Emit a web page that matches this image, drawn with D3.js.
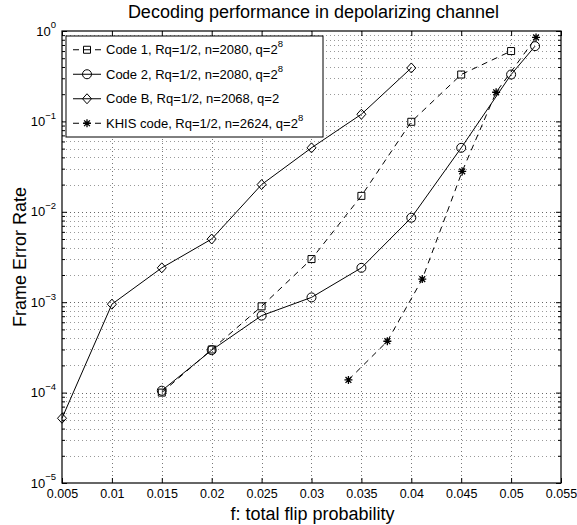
<!DOCTYPE html>
<html>
<head>
<meta charset="utf-8">
<script src="https://cdn.jsdelivr.net/npm/d3@7"></script>
<style>
  body { margin: 0; background: #fff; }
  svg { display: block; font-family: "Liberation Sans", Arial, Helvetica, sans-serif; }
</style>
</head>
<body>
<svg id="chart"></svg>
<script>
// Frame error rate vs total flip probability
const fCode1 = [0.015, 0.02, 0.025, 0.03, 0.035, 0.04, 0.045, 0.05];
const ferCode1 = [1.0e-4, 3.0e-4, 9.0e-4, 3.0e-3, 1.5e-2, 0.099, 0.33, 0.60];

const fCode2 = [0.015, 0.02, 0.025, 0.03, 0.035, 0.04, 0.045, 0.05, 0.0524];
const ferCode2 = [1.05e-4, 2.95e-4, 7.1e-4, 1.13e-3, 2.4e-3, 8.6e-3, 0.051, 0.33, 0.68];

const fCodeB = [0.005, 0.01, 0.015, 0.02, 0.025, 0.03, 0.035, 0.04];
const ferCodeB = [5.2e-5, 9.5e-4, 2.4e-3, 5.0e-3, 2.0e-2, 5.1e-2, 0.12, 0.39];

const fKhis = [0.0337, 0.0376, 0.0411, 0.0451, 0.0485, 0.0525];
const ferKhis = [1.38e-4, 3.7e-4, 1.8e-3, 2.8e-2, 0.21, 0.85];

const seriesNames = [
  'Code 1, Rq=1/2, n=2080, q=2',
  'Code 2, Rq=1/2, n=2080, q=2',
  'Code B, Rq=1/2, n=2068, q=2',
  'KHIS code, Rq=1/2, n=2624, q=2'
];
const seriesExponents = ['8', '8', '', '8'];

const xTicks = [0.005, 0.01, 0.015, 0.02, 0.025, 0.03, 0.035, 0.04, 0.045, 0.05, 0.055];
const xTickLabels = ['0.005', '0.01', '0.015', '0.02', '0.025', '0.03', '0.035', '0.04', '0.045', '0.05', '0.055'];
const yExponents = [0, -1, -2, -3, -4, -5];

const series = [
  {name: seriesNames[0], sup: seriesExponents[0], f: fCode1, fer: ferCode1, marker: 'square', dashed: true},
  {name: seriesNames[1], sup: seriesExponents[1], f: fCode2, fer: ferCode2, marker: 'circle', dashed: false},
  {name: seriesNames[2], sup: seriesExponents[2], f: fCodeB, fer: ferCodeB, marker: 'diamond', dashed: false},
  {name: seriesNames[3], sup: seriesExponents[3], f: fKhis, fer: ferKhis, marker: 'star', dashed: true}
];

const width = 577, height = 525;
const margin = {top: 31, right: 16, bottom: 42, left: 62};
const innerW = width - margin.left - margin.right;
const innerH = height - margin.top - margin.bottom;

const svg = d3.select('#chart').attr('width', width).attr('height', height);
const chart = svg.append('g').attr('transform', `translate(${margin.left},${margin.top})`);

const xScale = d3.scaleLinear().domain([0.005, 0.055]).range([0, innerW]);
const yScale = d3.scaleLog().domain([1e-5, 1]).range([innerH, 0]);

const yMajor = yExponents.map(e => Math.pow(10, e));
const yMinor = [];
for (let e = -5; e < 0; e++) {
  for (let m = 2; m <= 9; m++) yMinor.push(m * Math.pow(10, e));
}

// grid (dotted)
const grid = chart.append('g').attr('class', 'grid')
    .attr('stroke', '#777').attr('stroke-width', 1).attr('stroke-dasharray', '1,3');
grid.selectAll('.vgrid').data(xTicks.slice(1, -1)).enter().append('line')
    .attr('x1', d => Math.round(xScale(d)) + 0.5).attr('x2', d => Math.round(xScale(d)) + 0.5)
    .attr('y1', 0).attr('y2', innerH);
grid.selectAll('.hgrid').data(yMajor.slice(1, -1).concat(yMinor)).enter().append('line')
    .attr('x1', 0).attr('x2', innerW)
    .attr('y1', d => Math.round(yScale(d)) + 0.5).attr('y2', d => Math.round(yScale(d)) + 0.5)
    .attr('stroke', d => yMajor.includes(d) ? '#666' : '#999');

// axes with inward ticks on all four sides
const axisG = (axis, tf) => {
  const g = chart.append('g').attr('transform', tf).call(axis);
  g.select('.domain').remove();
  g.selectAll('line').attr('stroke', '#000');
  return g;
};
const xBottom = axisG(d3.axisBottom(xScale).tickValues(xTicks)
    .tickFormat((d, i) => xTickLabels[i]).tickSize(-5).tickPadding(6), `translate(0,${innerH})`);
xBottom.selectAll('text').attr('font-size', 12.5).attr('fill', '#000')
    .attr('font-family', '"Liberation Sans", Arial, sans-serif');
axisG(d3.axisTop(xScale).tickValues(xTicks).tickFormat('').tickSize(-5), 'translate(0,0)');
axisG(d3.axisLeft(yScale).tickValues(yMajor).tickFormat('').tickSize(-5), 'translate(0,0)');
axisG(d3.axisLeft(yScale).tickValues(yMinor).tickFormat('').tickSize(-3), 'translate(0,0)');
axisG(d3.axisRight(yScale).tickValues(yMajor).tickFormat('').tickSize(-5), `translate(${innerW},0)`);
axisG(d3.axisRight(yScale).tickValues(yMinor).tickFormat('').tickSize(-3), `translate(${innerW},0)`);

// y tick labels as 10^k
const yLabels = chart.append('g').attr('font-size', 13).attr('text-anchor', 'end');
yExponents.forEach(e => {
  const t = yLabels.append('text').attr('x', -6).attr('y', yScale(Math.pow(10, e))).attr('dy', '0.35em');
  t.append('tspan').text('10');
  t.append('tspan').attr('font-size', 9.5).attr('dy', '-0.75em')
      .text(e === 0 ? '0' : '\u2212' + Math.abs(e));
});

// box
chart.append('rect').attr('x', 0).attr('y', 0).attr('width', innerW).attr('height', innerH)
    .attr('fill', 'none').attr('stroke', '#000').attr('stroke-width', 1.2);

// markers
const markerPath = (type, cx, cy) => {
  if (type === 'square') return `M${cx - 3.5},${cy - 3.5}h7v7h-7Z`;
  if (type === 'circle') return `M${cx + 4.5},${cy}A4.5,4.5 0 1,1 ${cx - 4.5},${cy}A4.5,4.5 0 1,1 ${cx + 4.5},${cy}Z`;
  if (type === 'diamond') return `M${cx},${cy - 5}L${cx + 4.5},${cy}L${cx},${cy + 5}L${cx - 4.5},${cy}Z`;
  const r = 4, s = 2.9;
  return `M${cx - r},${cy}H${cx + r}M${cx},${cy - r}V${cy + r}` +
    `M${cx - s},${cy - s}L${cx + s},${cy + s}M${cx - s},${cy + s}L${cx + s},${cy - s}`;
};

const line = d3.line().x(d => xScale(d[0])).y(d => yScale(d[1]));

series.forEach(s => {
  const pts = s.f.map((f, i) => [f, s.fer[i]]);
  chart.append('path').datum(pts)
      .attr('d', line).attr('fill', 'none').attr('stroke', '#000').attr('stroke-width', 1)
      .attr('stroke-dasharray', s.dashed ? '6,5' : null);
  chart.selectAll(null).data(pts).enter().append('path')
      .attr('d', d => markerPath(s.marker, xScale(d[0]), yScale(d[1])))
      .attr('fill', 'none').attr('stroke', '#000').attr('stroke-width', s.marker === 'star' ? 1.3 : 1);
});

// legend
const legend = chart.append('g').attr('transform', 'translate(4,5)');
legend.append('rect').attr('x', 0).attr('y', 0).attr('width', 257).attr('height', 101)
    .attr('fill', '#fff').attr('stroke', '#000').attr('stroke-width', 1);
series.forEach((s, i) => {
  const ly = 13.75 + i * 24.5;
  legend.append('line').attr('x1', 7).attr('x2', 35).attr('y1', ly).attr('y2', ly)
      .attr('stroke', '#000').attr('stroke-width', 1).attr('stroke-dasharray', s.dashed ? '6,5' : null);
  legend.append('path').attr('d', markerPath(s.marker, 21, ly))
      .attr('fill', 'none').attr('stroke', '#000').attr('stroke-width', s.marker === 'star' ? 1.3 : 1);
  const t = legend.append('text').attr('x', 40).attr('y', ly).attr('dy', '0.35em').attr('font-size', 13);
  t.append('tspan').text(s.name);
  if (s.sup) t.append('tspan').attr('font-size', 9.5).attr('dy', '-0.75em').text(s.sup);
});

// title and axis labels
svg.append('text').attr('x', margin.left + innerW / 2 + 2).attr('y', 18).attr('text-anchor', 'middle')
    .attr('font-size', 18).text('Decoding performance in depolarizing channel');
svg.append('text').attr('x', margin.left + innerW / 2 + 1).attr('y', 520).attr('text-anchor', 'middle')
    .attr('font-size', 18).text('f: total flip probability');
svg.append('text').attr('transform', `translate(26,${margin.top + innerH / 2}) rotate(-90)`)
    .attr('text-anchor', 'middle').attr('font-size', 18).text('Frame Error Rate');
</script>
</body>
</html>
